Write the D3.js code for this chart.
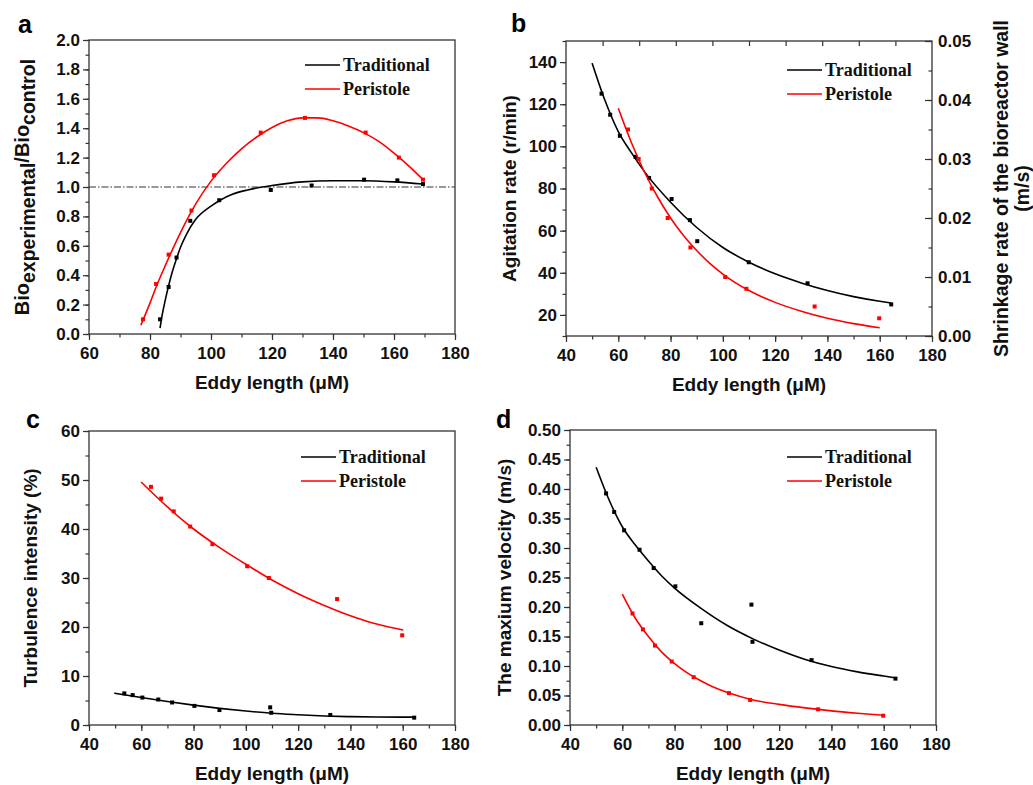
<!DOCTYPE html>
<html>
<head>
<meta charset="utf-8">
<script src="https://cdn.jsdelivr.net/npm/d3@7"></script>
<style>
  body { margin: 0; background: #fff; }
  svg { display: block; }
</style>
</head>
<body>
<div id="container"></div>
<script>
/* DATA */
// panel a
const aTradX = [83.3, 86.1, 88.7, 93.2, 102.7, 119.6, 133.0, 150.2, 161.1, 169.5]
const aTradY = [0.10, 0.32, 0.52, 0.77, 0.91, 0.98, 1.01, 1.05, 1.045, 1.02]
const aPeriX = [77.7, 82.0, 86.1, 93.6, 101.0, 116.3, 130.8, 150.7, 161.6, 169.5]
const aPeriY = [0.10, 0.34, 0.54, 0.84, 1.08, 1.37, 1.47, 1.37, 1.20, 1.05]
const aTradFitX = [83.3, 84, 85, 86, 87, 88.5, 90, 92, 95, 100, 103, 107, 112, 120, 130, 140, 150, 160, 169.5]
const aTradFitY = [0.04, 0.13, 0.23, 0.32, 0.40, 0.50, 0.59, 0.68, 0.78, 0.87, 0.91, 0.95, 0.98, 1.01, 1.035, 1.043, 1.043, 1.035, 1.02]
const aPeriFitX = [77, 80, 82.2, 85, 90, 95, 100, 105, 110, 115, 120, 125, 130, 135, 140, 145, 150, 155, 160, 165, 169.5]
const aPeriFitY = [0.06, 0.21, 0.33, 0.465, 0.69, 0.885, 1.04, 1.16, 1.26, 1.34, 1.405, 1.45, 1.47, 1.47, 1.45, 1.415, 1.37, 1.31, 1.23, 1.14, 1.05]

// panel b (Peristole on the right axis)
const bTradX = [53.6, 56.9, 60.6, 66.6, 71.8, 80.4, 87.4, 90.2, 109.9, 132.4, 164.4]
const bTradY = [125, 115, 105, 95, 85, 75, 65, 55, 45, 35, 25]
const bPeriX = [63.7, 67.8, 72.8, 78.9, 87.6, 100.9, 109.0, 135.1, 159.8]
const bPeriY = [0.035, 0.030, 0.025, 0.020, 0.015, 0.010, 0.008, 0.005, 0.003]
const bTradFitX = [50, 55, 60, 65, 70, 80, 90, 100, 110, 120, 130, 140, 150, 160, 164.4]
const bTradFitY = [139.5, 121.5, 107, 97, 88, 73.5, 61.5, 52, 45, 39.5, 35.2, 31.6, 28.7, 26.5, 25.7]
const bPeriFitX = [60, 65, 70, 75, 80, 85, 90, 95, 100, 110, 120, 130, 140, 150, 160]
const bPeriFitY = [0.0386, 0.0328, 0.0278, 0.0236, 0.0200, 0.0170, 0.0145, 0.0123, 0.0105, 0.0077, 0.0057, 0.0042, 0.0030, 0.0021, 0.0014]

// panel c
const cTradX = [53.5, 56.7, 60.4, 66.5, 71.8, 80.3, 89.9, 109.3, 109.7, 132.3, 164.4]
const cTradY = [6.45, 6.1, 5.6, 5.2, 4.6, 3.9, 3.05, 3.6, 2.5, 2.05, 1.5]
const cPeriX = [63.7, 67.6, 72.4, 78.7, 87.2, 100.5, 108.8, 134.9, 159.8]
const cPeriY = [48.6, 46.2, 43.6, 40.5, 36.9, 32.4, 30.0, 25.7, 18.3]
const cTradFitX = [49.7, 60, 70, 80, 90, 100, 110, 120, 130, 140, 150, 160, 164.4]
const cTradFitY = [6.5, 5.6, 4.8, 4.05, 3.4, 2.85, 2.4, 2.1, 1.85, 1.7, 1.62, 1.6, 1.6]
const cPeriFitX = [59.9, 70, 80, 90, 100, 110, 120, 130, 140, 150, 160.2]
const cPeriFitY = [49.6, 44.5, 40.0, 36.2, 32.8, 29.6, 26.8, 24.4, 22.3, 20.6, 19.4]

// panel d
const dTradX = [53.8, 56.9, 60.7, 66.6, 72.0, 80.3, 90.2, 109.4, 109.8, 132.4, 164.5]
const dTradY = [0.3925, 0.361, 0.330, 0.297, 0.266, 0.235, 0.1725, 0.204, 0.141, 0.110, 0.0786]
const dPeriX = [63.9, 67.9, 72.5, 78.9, 87.3, 100.8, 108.9, 134.9, 159.8]
const dPeriY = [0.189, 0.162, 0.1346, 0.1075, 0.081, 0.054, 0.0424, 0.0266, 0.0158]
const dTradFitX = [50, 55, 60, 65, 70, 75, 80, 90, 100, 110, 120, 130, 140, 150, 160, 164.5]
const dTradFitY = [0.437, 0.381, 0.336, 0.305, 0.278, 0.253, 0.232, 0.198, 0.169, 0.146, 0.127, 0.111, 0.099, 0.090, 0.083, 0.080]
const dPeriFitX = [60, 65, 70, 75, 80, 85, 90, 95, 100, 110, 120, 130, 140, 150, 160]
const dPeriFitY = [0.222, 0.181, 0.150, 0.124, 0.104, 0.088, 0.075, 0.064, 0.0555, 0.0425, 0.035, 0.029, 0.024, 0.020, 0.0165]

const seriesNames = ["Traditional", "Peristole"]
const seriesColors = ["#000000", "#ff0000"]

/* CONSTANTS */
const width = 1033, height = 785
const sansBold = "'Liberation Sans', Arial, sans-serif"
const serifBold = "'Liberation Serif', 'Times New Roman', serif"
const frameColor = "#333"

const zip = (xs, ys) => xs.map((x, i) => ({ x, y: ys[i] }))

const svg = d3.select("#container")
  .append("svg")
  .attr("width", width)
  .attr("height", height)

svg.append("rect").attr("width", width).attr("height", height).attr("fill", "#fff")

function drawPanel(p) {
  const g = svg.append("g")

  const xScale = d3.scaleLinear().domain(p.xDomain).range([p.left, p.right])
  const yScale = d3.scaleLinear().domain(p.yDomain).range([p.bottom, p.top])
  const y2Scale = p.y2Domain ? d3.scaleLinear().domain(p.y2Domain).range([p.bottom, p.top]) : null

  // minor ticks
  g.append("g")
    .attr("transform", `translate(0,${p.bottom})`)
    .call(d3.axisBottom(xScale).tickValues(d3.range(p.xDomain[0], p.xDomain[1] + 0.001, p.xMinor)).tickSize(3.5).tickFormat(""))
  g.append("g")
    .attr("transform", `translate(${p.left},0)`)
    .call(d3.axisLeft(yScale).tickValues(d3.range(p.yDomain[0], p.yDomain[1] + 1e-9, p.yMinor)).tickSize(3.5).tickFormat(""))

  // major ticks + labels
  g.append("g")
    .attr("transform", `translate(0,${p.bottom})`)
    .call(d3.axisBottom(xScale).tickValues(d3.range(p.xDomain[0], p.xDomain[1] + 0.001, p.xStep)).tickSize(6).tickPadding(7).tickFormat(d3.format("d")))
  g.append("g")
    .attr("transform", `translate(${p.left},0)`)
    .call(d3.axisLeft(yScale).tickValues(p.yTicks).tickSize(6).tickPadding(3).tickFormat(d3.format(p.yFormat)))

  if (y2Scale) {
    g.append("g")
      .attr("transform", `translate(${p.right},0)`)
      .call(d3.axisRight(y2Scale).tickValues(d3.range(0, 0.0501, 0.005)).tickSize(-3.5).tickFormat(""))
    g.append("g")
      .attr("transform", `translate(${p.right},0)`)
      .call(d3.axisRight(y2Scale).tickValues(d3.range(0, 0.0501, 0.01)).tickSizeInner(-7).tickSizeOuter(0).tickPadding(6).tickFormat(d3.format(".2f")))
      .selectAll("text").attr("x", 6)
    // inward ticks along the top edge
    const topScale = d3.scaleLinear().domain([0, 10]).range([p.left, p.right])
    g.append("g")
      .attr("transform", `translate(0,${p.top})`)
      .call(d3.axisTop(topScale).tickValues(d3.range(1, 10)).tickSize(-5).tickFormat(""))
  }

  g.selectAll(".domain").remove()
  g.selectAll(".tick line").attr("stroke", frameColor).attr("stroke-width", 1.2)
  g.selectAll(".tick text")
    .attr("fill", "#111")
    .style("font-family", sansBold)
    .style("font-weight", "bold")
    .style("font-size", "17px")

  // frame
  g.append("rect")
    .attr("x", p.left).attr("y", p.top)
    .attr("width", p.right - p.left).attr("height", p.bottom - p.top)
    .attr("fill", "none").attr("stroke", frameColor).attr("stroke-width", 1.3)

  // reference line (panel a)
  if (p.refLine !== undefined) {
    g.append("line")
      .attr("x1", p.left).attr("x2", p.right)
      .attr("y1", yScale(p.refLine)).attr("y2", yScale(p.refLine))
      .attr("stroke", "#333").attr("stroke-width", 1)
      .attr("stroke-dasharray", "7,2,1.5,2")
  }

  // series
  p.series.forEach((s, i) => {
    const ys = s.right ? y2Scale : yScale
    const line = d3.line().x(d => xScale(d.x)).y(d => ys(d.y)).curve(d3.curveMonotoneX)
    g.append("path")
      .datum(zip(s.fitX, s.fitY))
      .attr("d", line)
      .attr("fill", "none")
      .attr("stroke", seriesColors[i])
      .attr("stroke-width", 1.6)
    g.selectAll(null)
      .data(zip(s.x, s.y))
      .join("rect")
      .attr("x", d => xScale(d.x) - 2)
      .attr("y", d => ys(d.y) - 2)
      .attr("width", 4).attr("height", 4)
      .attr("fill", seriesColors[i])
  })

  // legend
  seriesNames.forEach((name, i) => {
    const ly = p.legend[1] + i * 24
    g.append("line")
      .attr("x1", p.legend[0]).attr("x2", p.legend[0] + 35)
      .attr("y1", ly).attr("y2", ly)
      .attr("stroke", seriesColors[i]).attr("stroke-width", 1.6)
    g.append("text")
      .attr("x", p.legend[0] + 38).attr("y", ly + 6)
      .text(name)
      .attr("fill", "#111")
      .style("font-family", serifBold)
      .style("font-weight", "bold")
      .style("font-size", "18px")
  })

  // x title
  g.append("text")
    .attr("x", (p.left + p.right) / 2).attr("y", p.bottom + 55)
    .attr("text-anchor", "middle")
    .attr("fill", "#111")
    .style("font-family", sansBold).style("font-weight", "bold").style("font-size", "19px")
    .text("Eddy length (\u03bcM)")

  // y title
  const yt = g.append("text")
    .attr("transform", `translate(${p.yTitleX},${(p.top + p.bottom) / 2}) rotate(-90)`)
    .attr("text-anchor", "middle")
    .attr("fill", "#111")
    .style("font-family", sansBold).style("font-weight", "bold").style("font-size", p.yTitleSize || "19px")
  p.yTitle.forEach(part => {
    yt.append("tspan")
      .attr("dy", part.dy || 0)
      .style("font-size", part.size || p.yTitleSize || "19px")
      .text(part.t)
  })

  if (p.y2Title) {
    p.y2Title.forEach((t, i) => {
      g.append("text")
        .attr("transform", `translate(${p.y2TitleX + i * 21},${(p.top + p.bottom) / 2}) rotate(-90)`)
        .attr("text-anchor", "middle")
        .attr("fill", "#111")
        .style("font-family", sansBold).style("font-weight", "bold").style("font-size", "19.5px")
        .text(t)
    })
  }

  // panel letter
  g.append("text")
    .attr("x", p.letterPos[0]).attr("y", p.letterPos[1])
    .attr("fill", "#000")
    .style("font-family", sansBold).style("font-weight", "bold").style("font-size", "25px")
    .text(p.letter)
}

drawPanel({
  letter: "a", letterPos: [18, 33],
  left: 89, right: 455, top: 40, bottom: 334,
  xDomain: [60, 180], xStep: 20, xMinor: 10,
  yDomain: [0, 2], yTicks: d3.range(0, 2.01, 0.2), yMinor: 0.1, yFormat: ".1f",
  refLine: 1.0,
  legend: [305, 65],
  yTitleX: 29,
  yTitleSize: "20px",
  yTitle: [
    { t: "Bio" }, { t: "experimental", dy: 6, size: "19.5px" },
    { t: "/Bio", dy: -6 }, { t: "control", dy: 6, size: "19.5px" }
  ],
  series: [
    { x: aTradX, y: aTradY, fitX: aTradFitX, fitY: aTradFitY },
    { x: aPeriX, y: aPeriY, fitX: aPeriFitX, fitY: aPeriFitY }
  ]
})

drawPanel({
  letter: "b", letterPos: [511, 32],
  left: 566, right: 932, top: 41, bottom: 336,
  xDomain: [40, 180], xStep: 20, xMinor: 10,
  yDomain: [10, 150], yTicks: d3.range(20, 141, 20), yMinor: 10, yFormat: "d",
  y2Domain: [0, 0.05],
  legend: [787, 70],
  yTitleX: 516,
  yTitle: [{ t: "Agitation rate (r/min)" }],
  y2TitleX: 1008,
  y2Title: ["Shrinkage rate of the bioreactor wall", "(m/s)"],
  series: [
    { x: bTradX, y: bTradY, fitX: bTradFitX, fitY: bTradFitY },
    { x: bPeriX, y: bPeriY, fitX: bPeriFitX, fitY: bPeriFitY, right: true }
  ]
})

drawPanel({
  letter: "c", letterPos: [26, 428],
  left: 89, right: 455, top: 431, bottom: 725,
  xDomain: [40, 180], xStep: 20, xMinor: 10,
  yDomain: [0, 60], yTicks: d3.range(0, 61, 10), yMinor: 5, yFormat: "d",
  legend: [301, 457],
  yTitleX: 37,
  yTitle: [{ t: "Turbulence intensity (%)" }],
  series: [
    { x: cTradX, y: cTradY, fitX: cTradFitX, fitY: cTradFitY },
    { x: cPeriX, y: cPeriY, fitX: cPeriFitX, fitY: cPeriFitY }
  ]
})

drawPanel({
  letter: "d", letterPos: [496, 428],
  left: 570, right: 936, top: 430, bottom: 725,
  xDomain: [40, 180], xStep: 20, xMinor: 10,
  yDomain: [0, 0.5], yTicks: d3.range(0, 0.501, 0.05), yMinor: 0.025, yFormat: ".2f",
  legend: [787, 457],
  yTitleX: 511,
  yTitle: [{ t: "The maxium velocity (m/s)" }],
  series: [
    { x: dTradX, y: dTradY, fitX: dTradFitX, fitY: dTradFitY },
    { x: dPeriX, y: dPeriY, fitX: dPeriFitX, fitY: dPeriFitY }
  ]
})
</script>
</body>
</html>
